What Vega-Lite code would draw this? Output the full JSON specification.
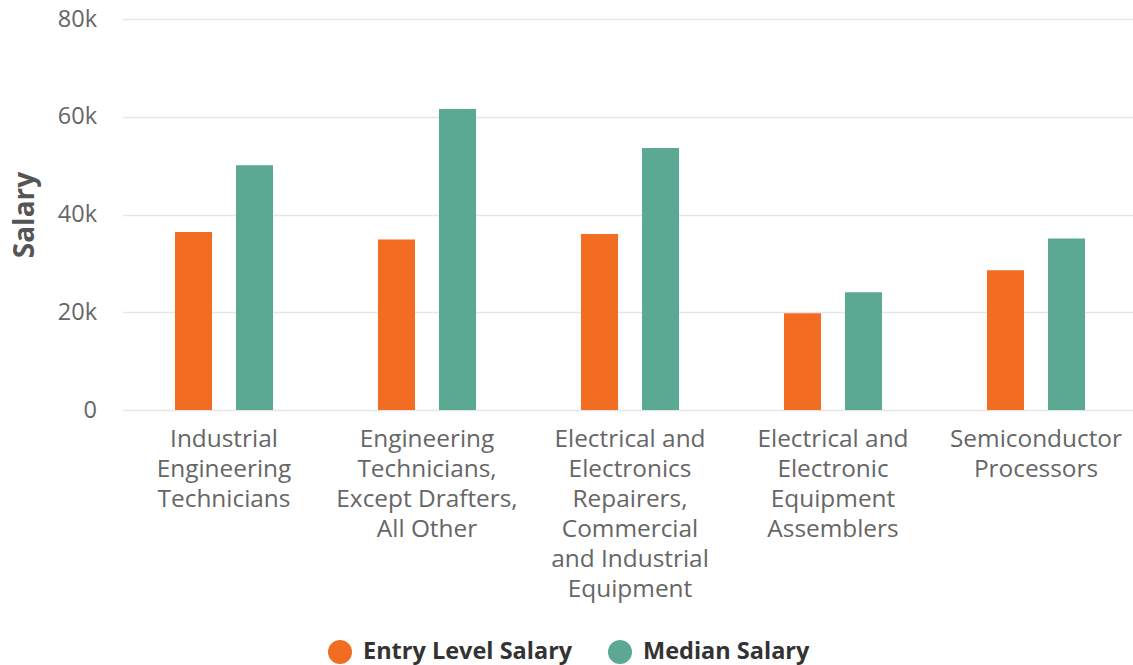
{
  "$schema": "https://vega.github.io/schema/vega-lite/v6.json",
  "autosize": {"type": "none"},
  "width": 1015,
  "height": 391,
  "padding": {"left": 122.5, "top": 19, "right": 0, "bottom": 256},
  "background": "white",
  "config": {
    "font": "Open Sans",
    "view": {"stroke": null}
  },
  "data": {
    "values": [
      {"occupation": "Industrial Engineering Technicians", "series": "Entry Level Salary", "salary": 36400},
      {"occupation": "Industrial Engineering Technicians", "series": "Median Salary", "salary": 50100},
      {"occupation": "Engineering Technicians, Except Drafters, All Other", "series": "Entry Level Salary", "salary": 34900},
      {"occupation": "Engineering Technicians, Except Drafters, All Other", "series": "Median Salary", "salary": 61600},
      {"occupation": "Electrical and Electronics Repairers, Commercial and Industrial Equipment", "series": "Entry Level Salary", "salary": 36000},
      {"occupation": "Electrical and Electronics Repairers, Commercial and Industrial Equipment", "series": "Median Salary", "salary": 53600},
      {"occupation": "Electrical and Electronic Equipment Assemblers", "series": "Entry Level Salary", "salary": 19800},
      {"occupation": "Electrical and Electronic Equipment Assemblers", "series": "Median Salary", "salary": 24100},
      {"occupation": "Semiconductor Processors", "series": "Entry Level Salary", "salary": 28600},
      {"occupation": "Semiconductor Processors", "series": "Median Salary", "salary": 35100}
    ]
  },
  "mark": {"type": "bar"},
  "encoding": {
    "x": {
      "field": "occupation",
      "type": "nominal",
      "sort": null,
      "scale": {"paddingInner": 0.517, "paddingOuter": 0.2585},
      "axis": {
        "title": null,
        "domain": false,
        "ticks": false,
        "tickSize": 0,
        "labelAngle": 0,
        "labelFontSize": 24.4,
        "labelColor": "#666666",
        "labelPadding": 17,
        "labelLineHeight": 30,
        "labelLimit": 0,
        "labelBaseline": "top",
        "labelExpr": "datum.label == 'Industrial Engineering Technicians' ? ['Industrial', 'Engineering', 'Technicians'] : datum.label == 'Engineering Technicians, Except Drafters, All Other' ? ['Engineering', 'Technicians,', 'Except Drafters,', 'All Other'] : datum.label == 'Electrical and Electronics Repairers, Commercial and Industrial Equipment' ? ['Electrical and', 'Electronics', 'Repairers,', 'Commercial', 'and Industrial', 'Equipment'] : datum.label == 'Electrical and Electronic Equipment Assemblers' ? ['Electrical and', 'Electronic', 'Equipment', 'Assemblers'] : ['Semiconductor', 'Processors']"
      }
    },
    "xOffset": {
      "field": "series",
      "type": "nominal",
      "sort": ["Entry Level Salary", "Median Salary"],
      "scale": {"paddingInner": 0.393, "paddingOuter": 0}
    },
    "y": {
      "field": "salary",
      "type": "quantitative",
      "scale": {"domain": [0, 80000], "nice": false},
      "axis": {
        "title": "Salary",
        "titleFontSize": 28,
        "titleFontWeight": "bold",
        "titleColor": "#555555",
        "titlePadding": 18,
        "values": [0, 20000, 40000, 60000, 80000],
        "labelExpr": "datum.value == 0 ? '0' : (datum.value / 1000) + 'k'",
        "labelFontSize": 23.5,
        "labelColor": "#666666",
        "labelPadding": 26,
        "domain": false,
        "ticks": false,
        "tickSize": 0,
        "grid": true,
        "gridColor": "#e6e6e6",
        "gridWidth": 1.3
      }
    },
    "color": {
      "field": "series",
      "type": "nominal",
      "sort": ["Entry Level Salary", "Median Salary"],
      "scale": {"domain": ["Entry Level Salary", "Median Salary"], "range": ["#F26D21", "#5BA893"]},
      "legend": {
        "title": null,
        "orient": "none",
        "direction": "horizontal",
        "legendX": 205.5,
        "legendY": 621,
        "symbolType": "circle",
        "symbolSize": 576,
        "symbolStrokeWidth": 0,
        "symbolOpacity": 1,
        "labelFontSize": 23.5,
        "labelFontWeight": "bold",
        "labelColor": "#333333",
        "labelOffset": 11,
        "columnPadding": 35,
        "labelLimit": 0
      }
    }
  }
}
